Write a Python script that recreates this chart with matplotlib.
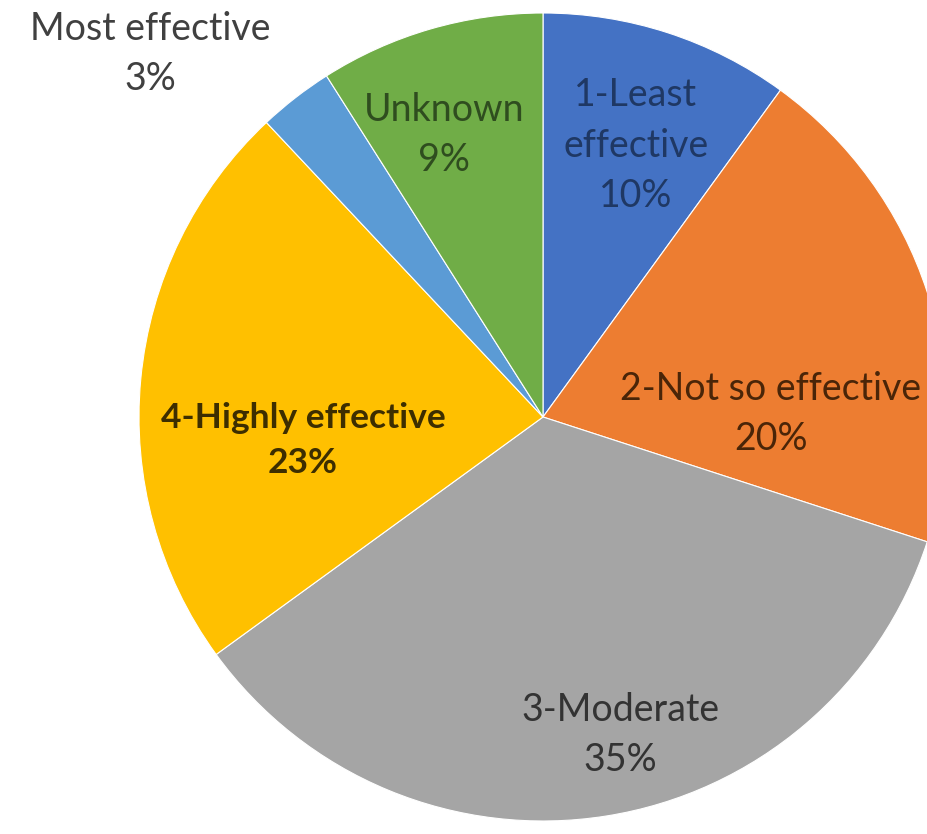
import matplotlib.pyplot as plt

# data (clockwise from 12 o'clock)
categories = ['1-Least\neffective', '2-Not so effective', '3-Moderate',
              '4-Highly effective', 'Most effective', 'Unknown']
shares = [10, 20, 35, 23, 3, 9]

colors = ['#4472C4', '#ED7D31', '#A5A5A5', '#FFC000', '#5B9BD5', '#70AD47']
text_colors = ['#1F3864', '#4A2508', '#333333', '#3D2E00', '#404040', '#2F4D1F']
text_weights = ['normal', 'normal', 'normal', 'bold', 'normal', 'normal']
text_sizes = [27, 27, 27, 25.5, 27, 27]
# label anchor points in pie units (centre = 0,0, radius = 1)
label_pos = [(0.230, 0.671), (0.564, 0.007), (0.191, -0.787),
             (-0.594, -0.057), (-0.973, 0.899), (-0.245, 0.698)]


def draw_pie():
    plt.rcParams['font.family'] = ['Lato', 'DejaVu Sans']
    W, H = 927, 834
    cx, cy, r = 543, 417, 404
    fig = plt.figure(figsize=(W / 100, H / 100), dpi=100)
    ax = fig.add_axes([(cx - r) / W, (H - cy - r) / H, 2 * r / W, 2 * r / H])

    wedges, _ = ax.pie(shares, colors=colors, startangle=90, counterclock=False,
                       radius=1, wedgeprops=dict(edgecolor='white', linewidth=0.8))
    for w in wedges:
        w.set_clip_on(False)

    for name, val, (x, y), c, fw, fs in zip(categories, shares, label_pos,
                                            text_colors, text_weights, text_sizes):
        ax.text(x, y, f'{name}\n{val}%', ha='center', va='center', fontsize=fs,
                color=c, fontweight=fw, linespacing=1.5, clip_on=False)

    ax.set_xlim(-1, 1)
    ax.set_ylim(-1, 1)
    ax.set_aspect('equal')
    ax.axis('off')
    fig.savefig('out.png', dpi=100)


if __name__ == '__main__':
    draw_pie()
